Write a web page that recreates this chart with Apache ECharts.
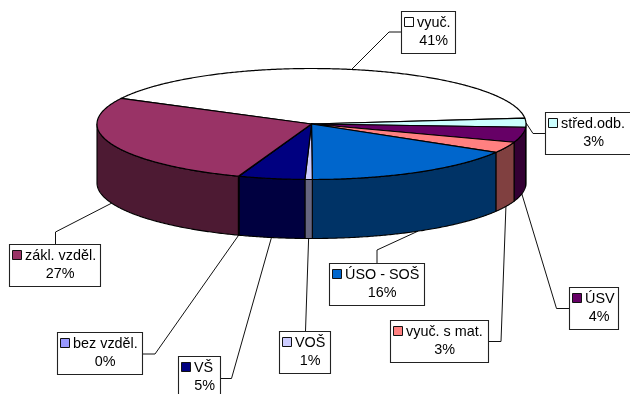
<!DOCTYPE html>
<html><head><meta charset="utf-8">
<style>html,body{margin:0;padding:0;background:#fff}#c{width:630px;height:394px}</style>
<script src="https://cdn.jsdelivr.net/npm/echarts@6/dist/echarts.min.js"></script>
</head><body><div id="c"></div>
<script>
// Data, clockwise from the top-left seam
const categories = ['vyuč.','střed.odb.','ÚSV','vyuč. s mat.','ÚSO - SOŠ','VOŠ','VŠ','bez vzděl.','zákl. vzděl.'];
const shares = [40.7,2.6,4.4,3.2,16.4,0.55,5,0.05,27.1];
const topColors = ['#FFFFFF','#CCFFFF','#660066','#FF8080','#0066CC','#CCCCFF','#000080','#9999FF','#993366'];
const wallColors = ['#808080','#668080','#330033','#804040','#003366','#666680','#000040','#4D4D80','#4D1A33'];
// Pie projection
const CX=311.5, CY=124, RX=214.5, RY=55.5, DEPTH=59, START=-152.5;
// Callout boxes: [left, top, width, height], elbow point
const boxes = [[401.5,11.5,54,42],[545.5,112.5,86,42],[569.5,287.5,49,42],[390.5,320.5,98,42],[329.5,263.5,95,42],[279.5,331.5,51,42],[178.5,356.5,42,42],[57.5,332.5,85,42],[9.5,244.5,91,42]];
const elbows = [[389,32],[533,133.5],[556.5,308.5],[501,341.5],[377,250],[305.5,331],[231.5,378.5],[155,354],[55.5,232]];
const boxExits = [[401.5,32],[545.5,133.5],[569.5,308.5],[488.5,341.5],[377,263.5],[305.5,331.5],[220.5,378.5],[142.5,354],[55.5,244.5]];

const total = shares.reduce((a,b)=>a+b,0);
const spans = []; { let a=START; shares.forEach(v=>{const s=v/total*360; spans.push([a,a+s]); a+=s;}); }
const pt=(deg,dy)=>{const r=deg*Math.PI/180; return [CX+RX*Math.cos(r), CY+RY*Math.sin(r)+(dy||0)];};
const arc=(a,b,dy)=>{const out=[]; const n=Math.max(2,Math.ceil(Math.abs(b-a)*2)); for(let i=0;i<=n;i++) out.push(pt(a+(b-a)*i/n,dy)); return out;};
const font='14.4px "Liberation Sans", Arial, sans-serif';

function renderWall(p,api){
  const i=p.dataIndex,[a,b]=spans[i];
  const lo=Math.max(a,0), hi=Math.min(b,180);
  if(hi<=lo) return {type:'group',children:[]};
  const pts=arc(lo,hi,0).concat(arc(hi,lo,DEPTH));
  return {type:'polygon',shape:{points:pts},style:{fill:wallColors[i],stroke:'#000',lineWidth:1.1,lineJoin:'round'}};
}
function renderTop(p,api){
  const i=p.dataIndex,[a,b]=spans[i];
  const pts=[[CX,CY]].concat(arc(a,b,0));
  return {type:'polygon',shape:{points:pts},style:{fill:topColors[i],stroke:'#000',lineWidth:1.2,lineJoin:'round'}};
}
function renderLeader(p,api){
  const i=p.dataIndex,[a,b]=spans[i];
  const m=(a+b)/2;
  const front=m>=0&&m<=180;
  const anchor=pt(m,front?DEPTH:0);
  return {type:'polyline',shape:{points:[boxExits[i],elbows[i],anchor]},style:{fill:null,stroke:'#111',lineWidth:1}};
}
function renderLabel(p,api){
  const i=p.dataIndex,[x,y,w,h]=boxes[i];
  return {type:'group',children:[
    {type:'rect',shape:{x,y,width:w,height:h},style:{fill:'#fff',stroke:'#222',lineWidth:1.1}},
    {type:'rect',shape:{x:x+3,y:y+6,width:9,height:9},style:{fill:topColors[i],stroke:'#111',lineWidth:1}},
    {type:'text',style:{text:categories[i],x:x+15.5,y:y+12,fill:'#000',font,textAlign:'left',textVerticalAlign:'middle'}},
    {type:'text',style:{text:Math.round(shares[i])+'%',x:x+w/2+5.2,y:y+29.5,fill:'#000',font,textAlign:'center',textVerticalAlign:'middle'}}
  ]};
}
const d=shares.map((v,i)=>({name:categories[i],value:v}));
const mk=(f,z)=>({type:'custom',coordinateSystem:'none',renderItem:f,data:d,z,silent:true,animation:false,clip:false});
const chart=echarts.init(document.getElementById('c'),null,{renderer:'canvas'});
chart.setOption({animation:false,backgroundColor:'#fff',tooltip:{show:false},
  series:[mk(renderLeader,1),mk(renderWall,2),mk(renderTop,3),mk(renderLabel,4)]});
</script></body></html>
